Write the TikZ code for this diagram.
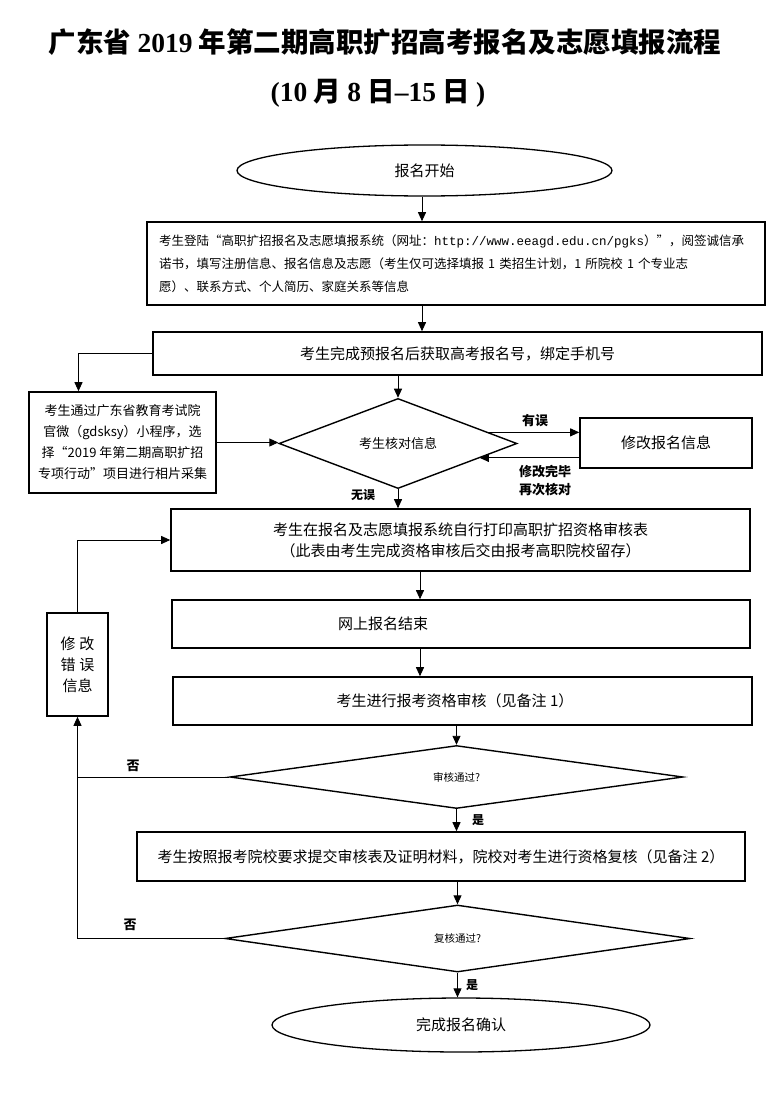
\documentclass[tikz,border=0pt]{standalone}
\usepackage{fontspec}
\setmainfont{Noto Sans CJK SC}
\newfontfamily\tnr{Liberation Serif}
\newfontfamily\urlmono{Liberation Mono}
\usepackage{tikz}
\usetikzlibrary{arrows.meta,calc,shapes.geometric}
\newcommand{\fsz}[2]{\fontsize{#1}{#2}\selectfont}

\begin{document}
\begin{tikzpicture}[x=1pt, y=-1pt,
    box/.style={draw, rectangle, line width=1.6pt, inner sep=0pt, align=center, font=\fsz{15}{21}},
    dia/.style={draw, diamond, line width=1.4pt, inner sep=0pt, font=\fsz{13}{16}},
    oval/.style={draw, ellipse, line width=1.3pt, inner sep=0pt, font=\fsz{15}{18}},
    arr/.style={-{Triangle[length=9pt,width=8pt]}, line width=0.9pt},
    lab/.style={font=\fsz{13}{18}\bfseries, align=center}]
\useasboundingbox (0,0) rectangle (780,1094);
% title
\node[font=\fsz{27.5}{32}\bfseries] (title1) at (385,42) {广东省 {\tnr\bfseries 2019} 年第二期高职扩招高考报名及志愿填报流程};
\node[font=\fsz{27.5}{32}\bfseries] (title2) at (378,93) {{\tnr\bfseries (10} 月 {\tnr\bfseries 8} 日{\tnr\bfseries –15} 日 {\tnr\bfseries )}};
% steps
\node[oval, minimum width=375pt, minimum height=51pt] (start) at (424.5,170.5) {报名开始};
\node[box, minimum width=618pt, minimum height=83pt, inner xsep=12pt, text width=594pt, align=left, font=\fsz{12.5}{23}] (login) at (456,263.5)
  {考生登陆“高职扩招报名及志愿填报系统（网址：{\urlmono http://www.eeagd.edu.cn/pgks}）”，阅签诚信承\\
   诺书，填写注册信息、报名信息及志愿（考生仅可选择填报 1 类招生计划，1 所院校 1 个专业志\\
   愿）、联系方式、个人简历、家庭关系等信息};
\node[box, minimum width=609pt, minimum height=43pt] (prereg) at (457.5,353.5) {考生完成预报名后获取高考报名号，绑定手机号};
\node[box, minimum width=187pt, minimum height=101pt, font=\fsz{13}{21}] (photo) at (122.5,442.5)
  {考生通过广东省教育考试院\\官微（gdsksy）小程序，选\\择“2019 年第二期高职扩招\\专项行动”项目进行相片采集};
\node[dia, minimum width=238pt, minimum height=83pt] (check) at (398,443.5) {考生核对信息};
\node[box, minimum width=172pt, minimum height=50pt] (modify) at (666,443) {修改报名信息};
\node[box, minimum width=579pt, minimum height=62pt] (print) at (460.5,540)
  {考生在报名及志愿填报系统自行打印高职扩招资格审核表\\（此表由考生完成资格审核后交由报考高职院校留存）};
\node[box, minimum width=578pt, minimum height=48pt, text width=578pt, align=left] (finish) at (461,624) {\hspace*{166pt}网上报名结束};
\node[box, minimum width=579pt, minimum height=48pt] (review) at (462.5,701) {\hspace*{-15pt}考生进行报考资格审核（见备注 1）};
\node[dia, minimum width=453pt, minimum height=63pt, font=\fsz{10.5}{13}] (revq) at (456.5,777) {审核通过?};
\node[box, minimum width=61pt, minimum height=103pt] (fixerr) at (77.5,664.5) {修\hspace{4pt}改\\错\hspace{4pt}误\\信息};
\node[box, minimum width=608pt, minimum height=49pt] (submit) at (441,856.5)
  {考生按照报考院校要求提交审核表及证明材料，院校对考生进行资格复核（见备注 2）};
\node[dia, minimum width=465pt, minimum height=67pt, font=\fsz{10.5}{13}] (recheck) at (457.5,938.5) {复核通过?};
\node[oval, minimum width=378pt, minimum height=54pt] (done) at (461,1025) {完成报名确认};
% labels
\node[lab] (haserr) at (535,421) {有误};
\node[lab] (again) at (545,481) {修改完毕\\再次核对};
\node[lab, font=\fsz{12}{14}\bfseries] (noerr) at (363,495) {无误};
\node[lab] (no1) at (133,766) {否};
\node[lab] (no2) at (130,925) {否};
\node[lab, font=\fsz{12}{14}\bfseries] (yes1) at (478,820) {是};
\node[lab, font=\fsz{12}{14}\bfseries] (yes2) at (472,985) {是};
% connectors
\coordinate (c1) at (422,0);
\coordinate (c3) at (420,0);
\draw[arr] (start.south -| c1) -- (login.north -| c1);
\draw[arr] (login.south -| c1) -- (prereg.north -| c1);
\draw[arr] (prereg.south -| check) -- (check.north);
\draw[arr] (prereg.west) -| ([xshift=-44pt]photo.north);
\draw[arr] (photo.east) -- (photo.east -| check.west);
\draw[arr] (check.7.6) -- (check.7.6 -| modify.west);
\draw[arr] (modify.west |- check.-10.6) -- (check.-10.6);
\draw[arr] (check.south) -- (print.north -| check);
\draw[arr] (print.south -| c3) -- (finish.north -| c3);
\draw[arr] (finish.south -| c3) -- (review.north -| c3);
\draw[arr] (review.south -| revq) -- (revq.north);
\draw[arr] (revq.south) -- (submit.north -| revq);
\draw[arr] (submit.south -| recheck) -- (recheck.north);
\draw[arr] (recheck.south) -- (done.north -| recheck);
\draw[line width=0.9pt] (revq.west) -- (revq.west -| fixerr.south);
\draw[arr] (recheck.west) -| (fixerr.south);
\draw[arr] (fixerr.north) |- (print.west);
\end{tikzpicture}
\end{document}
